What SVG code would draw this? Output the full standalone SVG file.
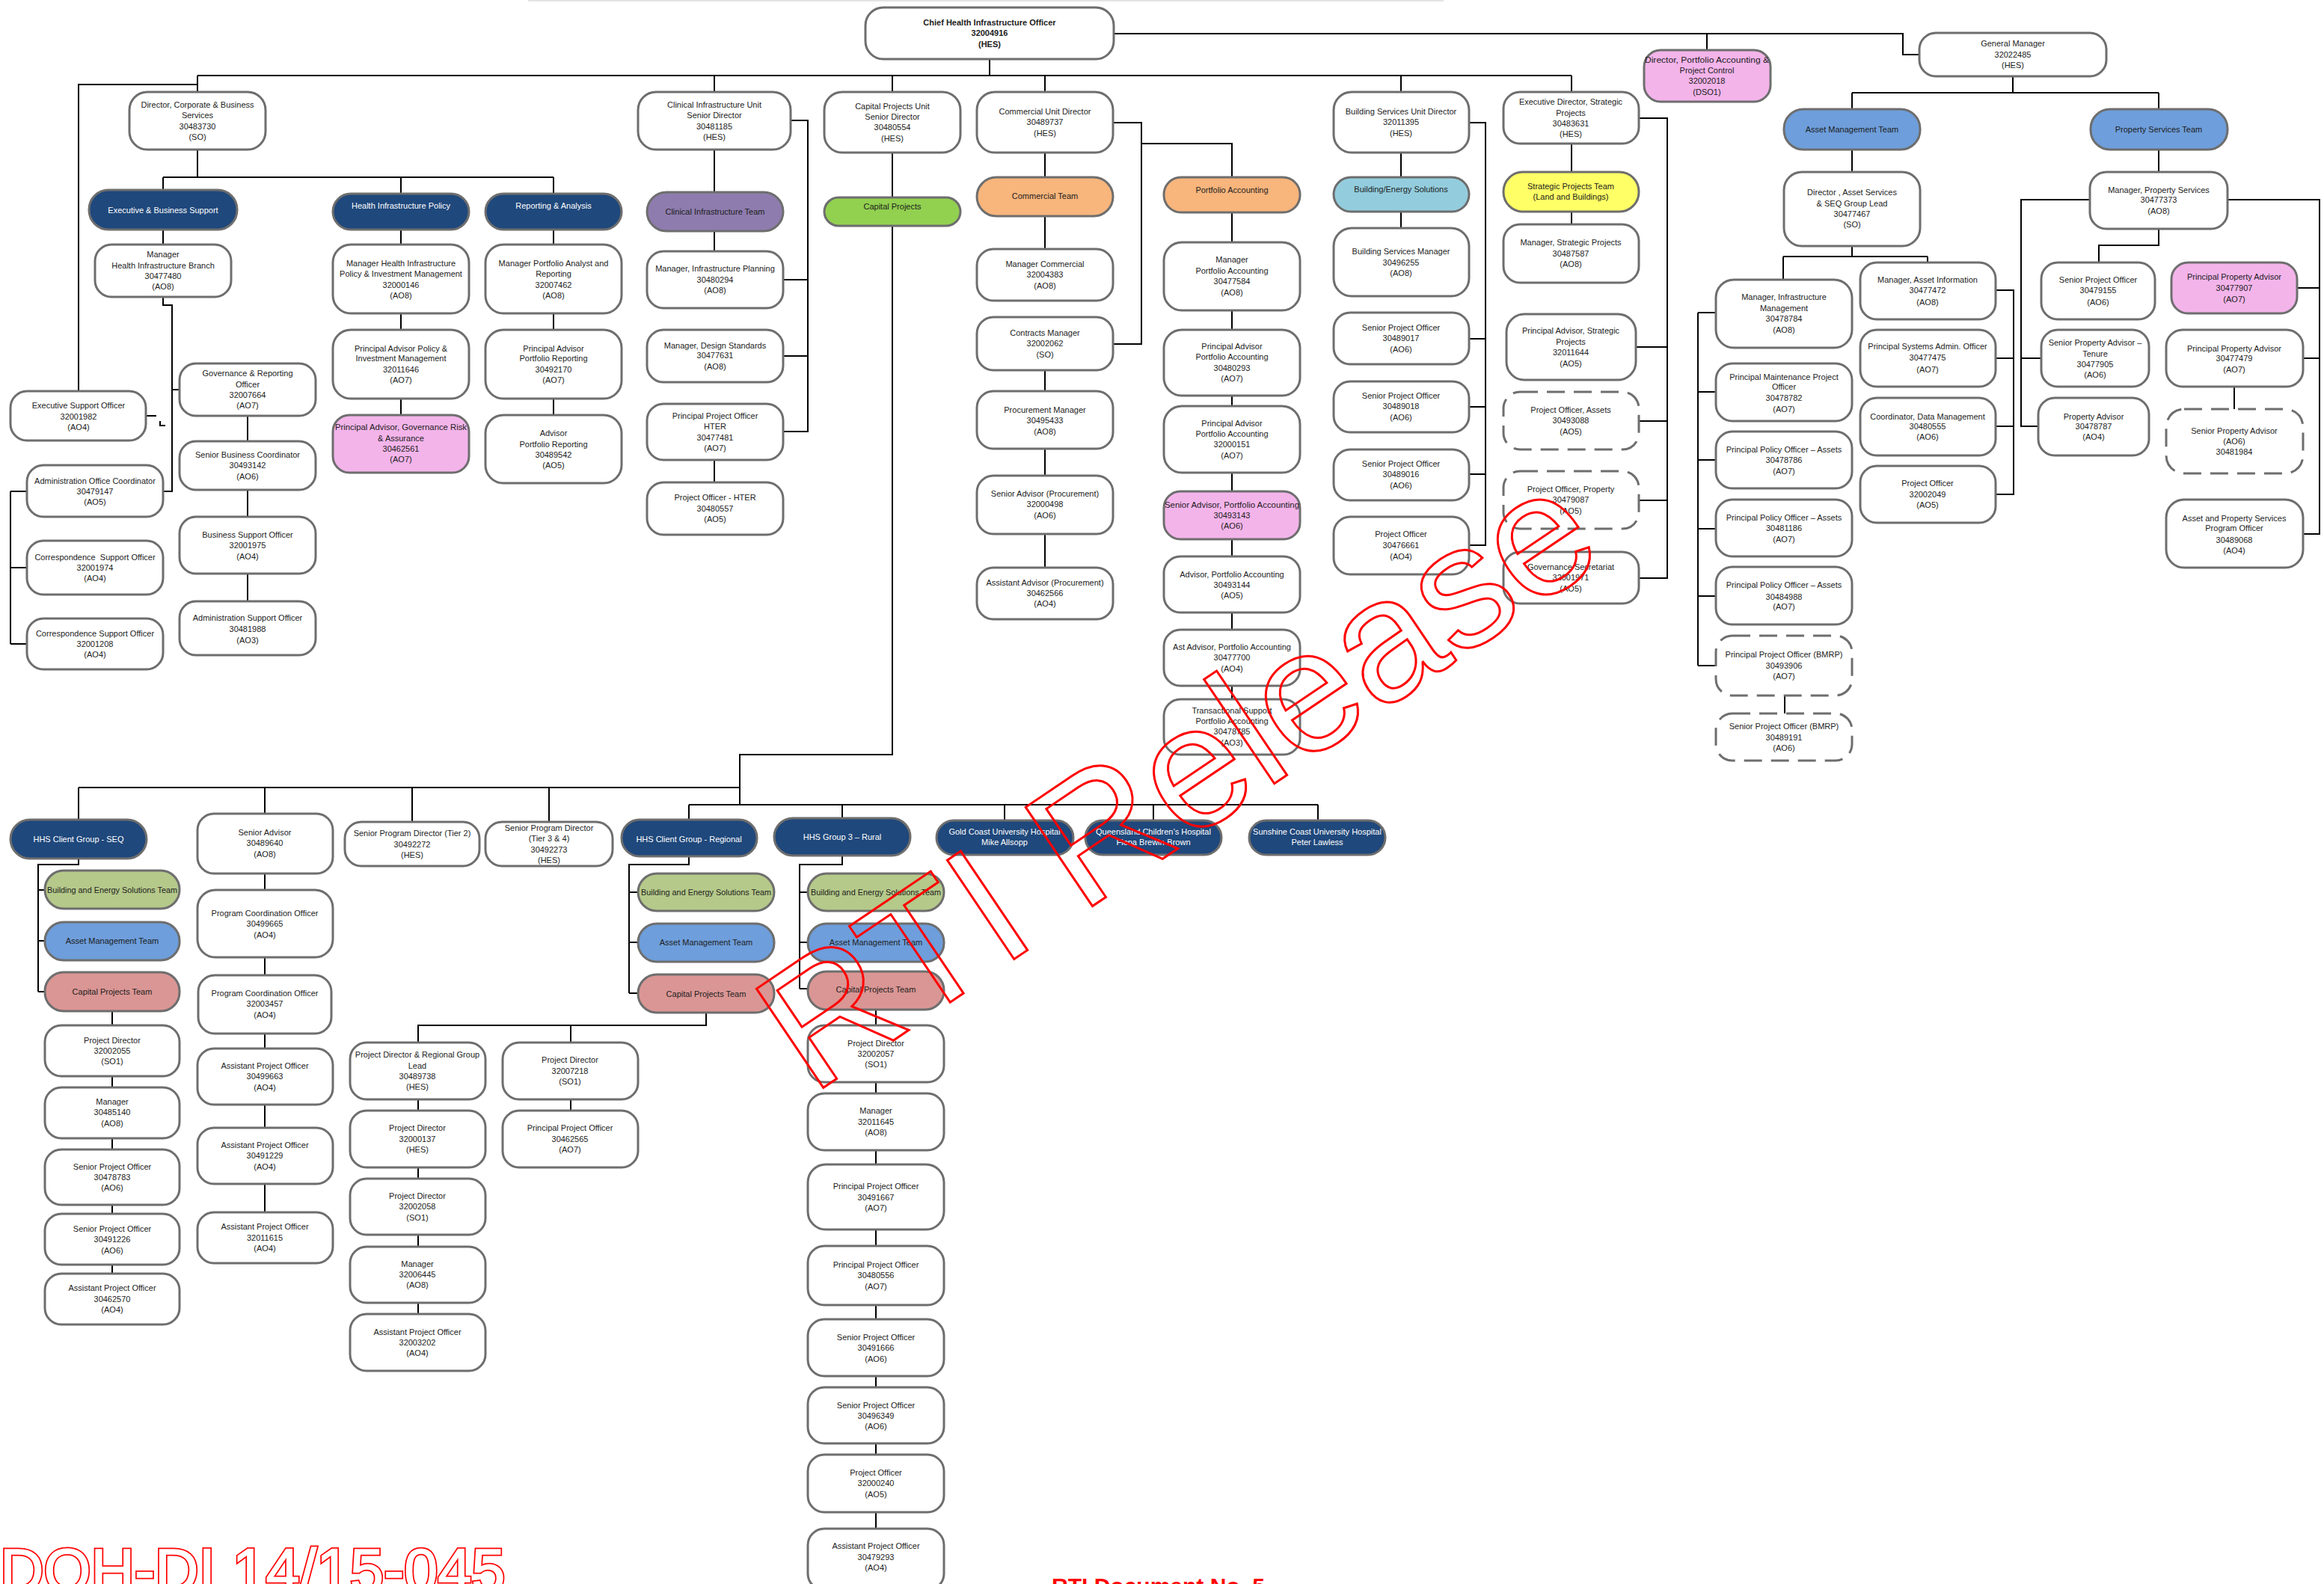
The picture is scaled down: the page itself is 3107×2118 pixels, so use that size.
<svg xmlns="http://www.w3.org/2000/svg" width="3107" height="2118" viewBox="0 0 3107 2118">
<style>
.n rect{fill:#fff;stroke:#6e6e6e;stroke-width:3}
.n text{font-family:"Liberation Sans",Arial,sans-serif;font-size:11px;fill:#1c1c1c;text-anchor:middle;white-space:pre}
.d rect{stroke-dasharray:24 12}
.hd rect{fill:#1f487c}
.hd text{fill:#fff}
.pk rect{fill:#f3b4ea}
.pu rect{fill:#8e7cae}
.gr rect{fill:#92d050}
.or rect{fill:#f8b57c}
.lb rect{fill:#93cddd}
.ye rect{fill:#ffff66}
.bl rect{fill:#6e9edb}
.ol rect{fill:#b5c98a}
.sa rect{fill:#da9694}
#connectors path{fill:none;stroke:#000;stroke-width:2}
.wm{font-family:"Liberation Sans",Arial,sans-serif;fill:none;stroke:#ff0000;stroke-width:3}
</style>

<rect x="706" y="0" width="1224" height="2" fill="#e4e4e4"/>

<g id="connectors">
<path d="M1323 79V101M264 101H2101M264 101V123M955 101V123M1193 101V123M1397 101V123M1873 101V123M2101 101V123"/>
<path d="M264 113H105V523"/>
<path d="M1489 45H2544V73H2566M2282 45V67"/>
<path d="M264 200V237M218 237H740M218 237V254M536 237V259M740 237V259M218 307V327"/>
<path d="M218 397V408H230V657H218M230 521H240"/>
<path d="M195 556H209M214 563V569H221"/>
<path d="M14 657V861M14 657H36M14 759H36M14 861H36"/>
<path d="M331 556V590M331 655V691M331 767V804"/>
<path d="M536 307V327M536 419V441M536 533V555M740 307V327M740 419V441M740 533V555"/>
<path d="M955 200V257M955 309V336M1057 161H1080V577H1047M1047 374H1080M1047 476H1080M955 615V645"/>
<path d="M1193 204V264M1193 302V1009H989V1076M105 1053H989M921 1076H1762"/>
<path d="M1397 204V237M1397 289V333M1488 164H1526V460H1488M1526 192H1647V237M1397 495V523M1397 600V636M1397 714V759"/>
<path d="M1647 284V324M1647 415V441M1647 529V543M1647 632V657M1647 721V744M1647 819V842M1647 917V935"/>
<path d="M1873 204V237M1873 283V305M1964 164H1986V729H1964M1964 453H1986M1964 544H1986M1964 634H1986"/>
<path d="M2101 192V230M2101 283V300M2191 158H2229V773H2191M2187 464H2229M2191 563H2229M2191 669H2229"/>
<path d="M2691 102V124M2476 124H2886M2476 124V146M2886 124V146M2476 200V230M2476 329V343M2384 343H2577M2384 343V374M2577 343V351"/>
<path d="M2270 418V890M2270 418H2294M2270 524H2294M2270 615H2294M2270 707H2294M2270 797H2294M2270 890H2294M2386 930V954"/>
<path d="M2668 388H2692V661H2668M2668 479H2692M2668 570H2692"/>
<path d="M2886 200V230M2886 306V328H2806V351M2794 267H2702V570H2725M2702 479H2729M2978 267H3101V714H3079M3071 385H3101M3079 479H3101M2987 517V547"/>
<path d="M105 1053V1096M354 1053V1088M551 1053V1099M734 1053V1099M921 1076V1096M1126 1076V1094M1343 1076V1097M1542 1076V1097M1762 1076V1097"/>
<path d="M105 1148V1156H51V1326M51 1190H60M51 1258H60M51 1326H60M150 1352V1371M150 1439V1454M150 1522V1537M150 1611V1623M150 1691V1703"/>
<path d="M354 1168V1190M354 1280V1304M354 1382V1402M354 1477V1508M354 1583V1621"/>
<path d="M921 1145V1156H841V1328M841 1193H853M841 1260H853M841 1328H853M944 1354V1371H559V1394M763 1371V1394M559 1470V1485M559 1561V1576M559 1651V1667M559 1742V1757M763 1470V1485"/>
<path d="M1126 1144V1156H1069V1322M1069 1193H1080M1069 1260H1080M1069 1322H1080M1171 1350V1371M1171 1447V1462M1171 1538V1557M1171 1644V1666M1171 1745V1764M1171 1840V1855M1171 1930V1945M1171 2022V2044"/>
</g>

<!-- executive level -->
<g id="chio" class="n"><rect x="1157" y="10" width="332" height="69" rx="24"/><text font-weight="bold"><tspan x="1323" y="34">Chief Health Infrastructure Officer</tspan><tspan x="1323" y="48">32004916</tspan><tspan x="1323" y="63">(HES)</tspan></text></g>
<g id="dir-pa" class="n pk"><rect x="2198" y="67" width="169" height="69" rx="22"/><text><tspan x="2282" y="84" textLength="166" lengthAdjust="spacingAndGlyphs">Director, Portfolio Accounting &amp;</tspan><tspan x="2282" y="98">Project Control</tspan><tspan x="2282" y="112">32002018</tspan><tspan x="2282" y="127">(DSO1)</tspan></text></g>
<g id="gm" class="n"><rect x="2566" y="44" width="250" height="58" rx="22"/><text><tspan x="2691" y="62">General Manager</tspan><tspan x="2691" y="77">32022485</tspan><tspan x="2691" y="91">(HES)</tspan></text></g>

<!-- corporate and business services -->
<g id="dir-corp" class="n"><rect x="173" y="123" width="182" height="77" rx="24"/><text><tspan x="264" y="144">Director, Corporate &amp; Business</tspan><tspan x="264" y="158">Services</tspan><tspan x="264" y="173">30483730</tspan><tspan x="264" y="187">(SO)</tspan></text></g>
<g id="exec-bs" class="n hd"><rect x="119" y="254" width="198" height="53" rx="26"/><text><tspan x="218" y="285">Executive &amp; Business Support</tspan></text></g>
<g id="hip" class="n hd"><rect x="445" y="259" width="182" height="48" rx="24"/><text><tspan x="536" y="279">Health Infrastructure Policy</tspan></text></g>
<g id="ra" class="n hd"><rect x="649" y="259" width="182" height="48" rx="24"/><text><tspan x="740" y="279">Reporting &amp; Analysis</tspan></text></g>
<g id="mgr-hib" class="n"><rect x="127" y="327" width="182" height="70" rx="22"/><text><tspan x="218" y="344">Manager</tspan><tspan x="218" y="359">Health Infrastructure Branch</tspan><tspan x="218" y="373">30477480</tspan><tspan x="218" y="387">(AO8)</tspan></text></g>
<g id="mgr-hip" class="n"><rect x="445" y="327" width="182" height="92" rx="24"/><text><tspan x="536" y="356">Manager Health Infrastructure</tspan><tspan x="536" y="370">Policy &amp; Investment Management</tspan><tspan x="536" y="385">32000146</tspan><tspan x="536" y="399">(AO8)</tspan></text></g>
<g id="mgr-par" class="n"><rect x="649" y="327" width="182" height="92" rx="24"/><text><tspan x="740" y="356">Manager Portfolio Analyst and</tspan><tspan x="740" y="370">Reporting</tspan><tspan x="740" y="385">32007462</tspan><tspan x="740" y="399">(AO8)</tspan></text></g>
<g id="pa-pim" class="n"><rect x="445" y="441" width="182" height="92" rx="24"/><text><tspan x="536" y="470">Principal Advisor Policy &amp;</tspan><tspan x="536" y="483">Investment Management</tspan><tspan x="536" y="498">32011646</tspan><tspan x="536" y="512">(AO7)</tspan></text></g>
<g id="pa-pr" class="n"><rect x="649" y="441" width="182" height="92" rx="24"/><text><tspan x="740" y="470">Principal Advisor</tspan><tspan x="740" y="483">Portfolio Reporting</tspan><tspan x="740" y="498">30492170</tspan><tspan x="740" y="512">(AO7)</tspan></text></g>
<g id="gro" class="n"><rect x="240" y="486" width="182" height="70" rx="22"/><text><tspan x="331" y="503">Governance &amp; Reporting</tspan><tspan x="331" y="518">Officer</tspan><tspan x="331" y="532">32007664</tspan><tspan x="331" y="546">(AO7)</tspan></text></g>
<g id="eso" class="n"><rect x="14" y="523" width="181" height="66" rx="22"/><text><tspan x="105" y="546">Executive Support Officer</tspan><tspan x="105" y="561">32001982</tspan><tspan x="105" y="575">(AO4)</tspan></text></g>
<g id="aoc" class="n"><rect x="36" y="622" width="182" height="69" rx="22"/><text><tspan x="127" y="647">Administration Office Coordinator</tspan><tspan x="127" y="661">30479147</tspan><tspan x="127" y="675">(AO5)</tspan></text></g>
<g id="cso1" class="n"><rect x="36" y="723" width="182" height="72" rx="22"/><text><tspan x="127" y="749">Correspondence  Support Officer</tspan><tspan x="127" y="763">32001974</tspan><tspan x="127" y="777">(AO4)</tspan></text></g>
<g id="cso2" class="n"><rect x="36" y="827" width="182" height="68" rx="22"/><text><tspan x="127" y="851">Correspondence Support Officer</tspan><tspan x="127" y="865">32001208</tspan><tspan x="127" y="879">(AO4)</tspan></text></g>
<g id="sbc" class="n"><rect x="240" y="590" width="182" height="65" rx="22"/><text><tspan x="331" y="612">Senior Business Coordinator</tspan><tspan x="331" y="626">30493142</tspan><tspan x="331" y="641">(AO6)</tspan></text></g>
<g id="bso" class="n"><rect x="240" y="691" width="182" height="76" rx="22"/><text><tspan x="331" y="719">Business Support Officer</tspan><tspan x="331" y="733">32001975</tspan><tspan x="331" y="748">(AO4)</tspan></text></g>
<g id="aso" class="n"><rect x="240" y="804" width="182" height="72" rx="22"/><text><tspan x="331" y="830">Administration Support Officer</tspan><tspan x="331" y="845">30481988</tspan><tspan x="331" y="860">(AO3)</tspan></text></g>
<g id="pa-gra" class="n pk"><rect x="445" y="555" width="182" height="77" rx="22"/><text><tspan x="536" y="575" textLength="176" lengthAdjust="spacingAndGlyphs">Principal Advisor, Governance Risk</tspan><tspan x="536" y="590">&amp; Assurance</tspan><tspan x="536" y="604">30462561</tspan><tspan x="536" y="618">(AO7)</tspan></text></g>
<g id="apr" class="n"><rect x="649" y="555" width="182" height="91" rx="24"/><text><tspan x="740" y="583">Advisor</tspan><tspan x="740" y="598">Portfolio Reporting</tspan><tspan x="740" y="612">30489542</tspan><tspan x="740" y="626">(AO5)</tspan></text></g>

<!-- clinical infrastructure -->
<g id="ciusd" class="n"><rect x="853" y="123" width="204" height="77" rx="24"/><text><tspan x="955" y="144">Clinical Infrastructure Unit</tspan><tspan x="955" y="158">Senior Director</tspan><tspan x="955" y="173">30481185</tspan><tspan x="955" y="187">(HES)</tspan></text></g>
<g id="cit" class="n pu"><rect x="865" y="257" width="182" height="52" rx="26"/><text><tspan x="956" y="287">Clinical Infrastructure Team</tspan></text></g>
<g id="mip" class="n"><rect x="865" y="336" width="182" height="76" rx="22"/><text><tspan x="956" y="363">Manager, Infrastructure Planning</tspan><tspan x="956" y="378">30480294</tspan><tspan x="956" y="392">(AO8)</tspan></text></g>
<g id="mds" class="n"><rect x="865" y="441" width="182" height="70" rx="22"/><text><tspan x="956" y="466">Manager, Design Standards</tspan><tspan x="956" y="479">30477631</tspan><tspan x="956" y="494">(AO8)</tspan></text></g>
<g id="ppo-hter" class="n"><rect x="865" y="540" width="182" height="75" rx="22"/><text><tspan x="956" y="560">Principal Project Officer</tspan><tspan x="956" y="574">HTER</tspan><tspan x="956" y="589">30477481</tspan><tspan x="956" y="603">(AO7)</tspan></text></g>
<g id="po-hter" class="n"><rect x="865" y="645" width="182" height="70" rx="22"/><text><tspan x="956" y="669">Project Officer - HTER</tspan><tspan x="956" y="684">30480557</tspan><tspan x="956" y="698">(AO5)</tspan></text></g>

<!-- capital projects -->
<g id="cpusd" class="n"><rect x="1102" y="123" width="182" height="81" rx="24"/><text><tspan x="1193" y="146">Capital Projects Unit</tspan><tspan x="1193" y="160">Senior Director</tspan><tspan x="1193" y="174">30480554</tspan><tspan x="1193" y="189">(HES)</tspan></text></g>
<g id="cp" class="n gr"><rect x="1102" y="264" width="182" height="38" rx="19"/><text><tspan x="1193" y="280">Capital Projects</tspan></text></g>

<!-- commercial -->
<g id="cud" class="n"><rect x="1306" y="123" width="182" height="81" rx="24"/><text><tspan x="1397" y="153">Commercial Unit Director</tspan><tspan x="1397" y="167">30489737</tspan><tspan x="1397" y="182">(HES)</tspan></text></g>
<g id="ct" class="n or"><rect x="1306" y="237" width="182" height="52" rx="26"/><text><tspan x="1397" y="266">Commercial Team</tspan></text></g>
<g id="mc" class="n"><rect x="1306" y="333" width="182" height="69" rx="22"/><text><tspan x="1397" y="357">Manager Commercial</tspan><tspan x="1397" y="371">32004383</tspan><tspan x="1397" y="386">(AO8)</tspan></text></g>
<g id="cm" class="n"><rect x="1306" y="424" width="182" height="71" rx="22"/><text><tspan x="1397" y="449">Contracts Manager</tspan><tspan x="1397" y="463">32002062</tspan><tspan x="1397" y="478">(SO)</tspan></text></g>
<g id="pm" class="n"><rect x="1306" y="523" width="182" height="77" rx="22"/><text><tspan x="1397" y="552">Procurement Manager</tspan><tspan x="1397" y="566">30495433</tspan><tspan x="1397" y="581">(AO8)</tspan></text></g>
<g id="sap" class="n"><rect x="1306" y="636" width="182" height="78" rx="22"/><text><tspan x="1397" y="664">Senior Advisor (Procurement)</tspan><tspan x="1397" y="678">32000498</tspan><tspan x="1397" y="693">(AO6)</tspan></text></g>
<g id="aap" class="n"><rect x="1306" y="759" width="182" height="69" rx="22"/><text><tspan x="1397" y="783">Assistant Advisor (Procurement)</tspan><tspan x="1397" y="797">30462566</tspan><tspan x="1397" y="811">(AO4)</tspan></text></g>

<!-- portfolio accounting -->
<g id="pat" class="n or"><rect x="1556" y="237" width="182" height="47" rx="23"/><text><tspan x="1647" y="258">Portfolio Accounting</tspan></text></g>
<g id="mpa" class="n"><rect x="1556" y="324" width="182" height="91" rx="24"/><text><tspan x="1647" y="351">Manager</tspan><tspan x="1647" y="366">Portfolio Accounting</tspan><tspan x="1647" y="380">30477584</tspan><tspan x="1647" y="395">(AO8)</tspan></text></g>
<g id="papa1" class="n"><rect x="1556" y="441" width="182" height="88" rx="24"/><text><tspan x="1647" y="467">Principal Advisor</tspan><tspan x="1647" y="481">Portfolio Accounting</tspan><tspan x="1647" y="496">30480293</tspan><tspan x="1647" y="510">(AO7)</tspan></text></g>
<g id="papa2" class="n"><rect x="1556" y="543" width="182" height="89" rx="24"/><text><tspan x="1647" y="570">Principal Advisor</tspan><tspan x="1647" y="584">Portfolio Accounting</tspan><tspan x="1647" y="598">32000151</tspan><tspan x="1647" y="613">(AO7)</tspan></text></g>
<g id="sapa" class="n pk"><rect x="1556" y="657" width="182" height="64" rx="22"/><text><tspan x="1647" y="679" textLength="180" lengthAdjust="spacingAndGlyphs">Senior Advisor, Portfolio Accounting</tspan><tspan x="1647" y="693">30493143</tspan><tspan x="1647" y="707">(AO6)</tspan></text></g>
<g id="apa" class="n"><rect x="1556" y="744" width="182" height="75" rx="22"/><text><tspan x="1647" y="772">Advisor, Portfolio Accounting</tspan><tspan x="1647" y="786">30493144</tspan><tspan x="1647" y="800">(AO5)</tspan></text></g>
<g id="aapa" class="n"><rect x="1556" y="842" width="182" height="75" rx="22"/><text><tspan x="1647" y="869">Ast Advisor, Portfolio Accounting</tspan><tspan x="1647" y="883">30477700</tspan><tspan x="1647" y="898">(AO4)</tspan></text></g>
<g id="tspa" class="n"><rect x="1556" y="935" width="182" height="74" rx="22"/><text><tspan x="1647" y="954">Transactional Support</tspan><tspan x="1647" y="968">Portfolio Accounting</tspan><tspan x="1647" y="982">30478785</tspan><tspan x="1647" y="997">(AO3)</tspan></text></g>

<!-- building services -->
<g id="bsud" class="n"><rect x="1783" y="123" width="181" height="81" rx="24"/><text><tspan x="1873" y="153">Building Services Unit Director</tspan><tspan x="1873" y="167">32011395</tspan><tspan x="1873" y="182">(HES)</tspan></text></g>
<g id="bes" class="n lb"><rect x="1783" y="237" width="181" height="46" rx="23"/><text><tspan x="1873" y="257">Building/Energy Solutions</tspan></text></g>
<g id="bsm" class="n"><rect x="1783" y="305" width="181" height="91" rx="24"/><text><tspan x="1873" y="340">Building Services Manager</tspan><tspan x="1873" y="355">30496255</tspan><tspan x="1873" y="369">(AO8)</tspan></text></g>
<g id="spo-b1" class="n"><rect x="1783" y="418" width="181" height="69" rx="22"/><text><tspan x="1873" y="442">Senior Project Officer</tspan><tspan x="1873" y="456">30489017</tspan><tspan x="1873" y="471">(AO6)</tspan></text></g>
<g id="spo-b2" class="n"><rect x="1783" y="510" width="181" height="68" rx="22"/><text><tspan x="1873" y="533">Senior Project Officer</tspan><tspan x="1873" y="547">30489018</tspan><tspan x="1873" y="562">(AO6)</tspan></text></g>
<g id="spo-b3" class="n"><rect x="1783" y="601" width="181" height="68" rx="22"/><text><tspan x="1873" y="624">Senior Project Officer</tspan><tspan x="1873" y="638">30489016</tspan><tspan x="1873" y="653">(AO6)</tspan></text></g>
<g id="po-b" class="n"><rect x="1783" y="691" width="181" height="77" rx="22"/><text><tspan x="1873" y="718">Project Officer</tspan><tspan x="1873" y="733">30476661</tspan><tspan x="1873" y="748">(AO4)</tspan></text></g>

<!-- strategic projects -->
<g id="edsp" class="n"><rect x="2010" y="123" width="181" height="69" rx="22"/><text><tspan x="2100" y="140">Executive Director, Strategic</tspan><tspan x="2100" y="155">Projects</tspan><tspan x="2100" y="169">30483631</tspan><tspan x="2100" y="183">(HES)</tspan></text></g>
<g id="spt" class="n ye"><rect x="2010" y="230" width="181" height="53" rx="26"/><text><tspan x="2100" y="253">Strategic Projects Team</tspan><tspan x="2100" y="267">(Land and Buildings)</tspan></text></g>
<g id="msp" class="n"><rect x="2010" y="300" width="181" height="78" rx="22"/><text><tspan x="2100" y="328">Manager, Strategic Projects</tspan><tspan x="2100" y="343">30487587</tspan><tspan x="2100" y="357">(AO8)</tspan></text></g>
<g id="pasp" class="n"><rect x="2014" y="420" width="173" height="88" rx="24"/><text><tspan x="2100" y="446">Principal Advisor, Strategic</tspan><tspan x="2100" y="461">Projects</tspan><tspan x="2100" y="475">32011644</tspan><tspan x="2100" y="490">(AO5)</tspan></text></g>
<g id="poa" class="n d"><rect x="2010" y="524" width="181" height="77" rx="22"/><text><tspan x="2100" y="552">Project Officer, Assets</tspan><tspan x="2100" y="566">30493088</tspan><tspan x="2100" y="581">(AO5)</tspan></text></g>
<g id="pop" class="n d"><rect x="2010" y="630" width="181" height="77" rx="22"/><text><tspan x="2100" y="658">Project Officer, Property</tspan><tspan x="2100" y="672">30479087</tspan><tspan x="2100" y="687">(AO5)</tspan></text></g>
<g id="gs" class="n"><rect x="2010" y="738" width="181" height="69" rx="22"/><text><tspan x="2100" y="762">Governance Secretariat</tspan><tspan x="2100" y="776">32001971</tspan><tspan x="2100" y="791">(AO5)</tspan></text></g>

<!-- asset management -->
<g id="amt" class="n bl"><rect x="2385" y="146" width="182" height="54" rx="26"/><text><tspan x="2476" y="177">Asset Management Team</tspan></text></g>
<g id="das" class="n"><rect x="2385" y="230" width="182" height="99" rx="24"/><text><tspan x="2476" y="261">Director , Asset Services</tspan><tspan x="2476" y="276">&amp; SEQ Group Lead</tspan><tspan x="2476" y="290">30477467</tspan><tspan x="2476" y="304">(SO)</tspan></text></g>
<g id="mim" class="n"><rect x="2294" y="374" width="182" height="91" rx="24"/><text><tspan x="2385" y="401">Manager, Infrastructure</tspan><tspan x="2385" y="416">Management</tspan><tspan x="2385" y="430">30478784</tspan><tspan x="2385" y="445">(AO8)</tspan></text></g>
<g id="pmpo" class="n"><rect x="2294" y="486" width="182" height="77" rx="22"/><text><tspan x="2385" y="508">Principal Maintenance Project</tspan><tspan x="2385" y="521">Officer</tspan><tspan x="2385" y="536">30478782</tspan><tspan x="2385" y="551">(AO7)</tspan></text></g>
<g id="ppoa1" class="n"><rect x="2294" y="577" width="182" height="76" rx="22"/><text><tspan x="2385" y="605">Principal Policy Officer – Assets</tspan><tspan x="2385" y="619">30478786</tspan><tspan x="2385" y="634">(AO7)</tspan></text></g>
<g id="ppoa2" class="n"><rect x="2294" y="668" width="182" height="76" rx="22"/><text><tspan x="2385" y="696">Principal Policy Officer – Assets</tspan><tspan x="2385" y="710">30481186</tspan><tspan x="2385" y="725">(AO7)</tspan></text></g>
<g id="ppoa3" class="n"><rect x="2294" y="758" width="182" height="77" rx="22"/><text><tspan x="2385" y="786">Principal Policy Officer – Assets</tspan><tspan x="2385" y="802">30484988</tspan><tspan x="2385" y="815">(AO7)</tspan></text></g>
<g id="ppo-bmrp" class="n d"><rect x="2294" y="850" width="182" height="80" rx="22"/><text><tspan x="2385" y="879">Principal Project Officer (BMRP)</tspan><tspan x="2385" y="894">30493906</tspan><tspan x="2385" y="908">(AO7)</tspan></text></g>
<g id="spo-bmrp" class="n d"><rect x="2294" y="954" width="182" height="63" rx="22"/><text><tspan x="2385" y="975">Senior Project Officer (BMRP)</tspan><tspan x="2385" y="990">30489191</tspan><tspan x="2385" y="1004">(AO6)</tspan></text></g>
<g id="mai" class="n"><rect x="2487" y="351" width="181" height="76" rx="22"/><text><tspan x="2577" y="378">Manager, Asset Information</tspan><tspan x="2577" y="392">30477472</tspan><tspan x="2577" y="408">(AO8)</tspan></text></g>
<g id="psao" class="n"><rect x="2487" y="441" width="181" height="76" rx="22"/><text><tspan x="2577" y="467">Principal Systems Admin. Officer</tspan><tspan x="2577" y="482">30477475</tspan><tspan x="2577" y="498">(AO7)</tspan></text></g>
<g id="cdm" class="n"><rect x="2487" y="532" width="181" height="77" rx="22"/><text><tspan x="2577" y="561">Coordinator, Data Management</tspan><tspan x="2577" y="574">30480555</tspan><tspan x="2577" y="588">(AO6)</tspan></text></g>
<g id="po-am" class="n"><rect x="2487" y="623" width="181" height="76" rx="22"/><text><tspan x="2577" y="650">Project Officer</tspan><tspan x="2577" y="665">32002049</tspan><tspan x="2577" y="679">(AO5)</tspan></text></g>

<!-- property services -->
<g id="pst" class="n bl"><rect x="2795" y="146" width="183" height="54" rx="26"/><text><tspan x="2886" y="177">Property Services Team</tspan></text></g>
<g id="mps" class="n"><rect x="2794" y="230" width="184" height="76" rx="22"/><text><tspan x="2886" y="258">Manager, Property Services</tspan><tspan x="2886" y="271">30477373</tspan><tspan x="2886" y="286">(AO8)</tspan></text></g>
<g id="spo-ps" class="n"><rect x="2729" y="351" width="152" height="76" rx="22"/><text><tspan x="2805" y="378">Senior Project Officer</tspan><tspan x="2805" y="392">30479155</tspan><tspan x="2805" y="408">(AO6)</tspan></text></g>
<g id="ppa1" class="n pk"><rect x="2903" y="351" width="168" height="68" rx="22"/><text><tspan x="2987" y="374">Principal Property Advisor</tspan><tspan x="2987" y="389">30477907</tspan><tspan x="2987" y="404">(AO7)</tspan></text></g>
<g id="spat" class="n"><rect x="2729" y="441" width="144" height="76" rx="22"/><text><tspan x="2801" y="462">Senior Property Advisor –</tspan><tspan x="2801" y="477">Tenure</tspan><tspan x="2801" y="491">30477905</tspan><tspan x="2801" y="505">(AO6)</tspan></text></g>
<g id="ppa2" class="n"><rect x="2896" y="441" width="183" height="76" rx="22"/><text><tspan x="2987" y="470">Principal Property Advisor</tspan><tspan x="2987" y="483">30477479</tspan><tspan x="2987" y="498">(AO7)</tspan></text></g>
<g id="pa-ps" class="n"><rect x="2725" y="532" width="148" height="77" rx="22"/><text><tspan x="2799" y="561">Property Advisor</tspan><tspan x="2799" y="574">30478787</tspan><tspan x="2799" y="588">(AO4)</tspan></text></g>
<g id="spa" class="n d"><rect x="2896" y="547" width="183" height="86" rx="24"/><text><tspan x="2987" y="580">Senior Property Advisor</tspan><tspan x="2987" y="594">(AO6)</tspan><tspan x="2987" y="608">30481984</tspan></text></g>
<g id="apspo" class="n"><rect x="2896" y="668" width="183" height="91" rx="24"/><text><tspan x="2987" y="697">Asset and Property Services</tspan><tspan x="2987" y="710">Program Officer</tspan><tspan x="2987" y="726">30489068</tspan><tspan x="2987" y="740">(AO4)</tspan></text></g>

<!-- HHS client group SEQ -->
<g id="seq" class="n hd"><rect x="14" y="1096" width="182" height="52" rx="26"/><text><tspan x="105" y="1126">HHS Client Group - SEQ</tspan></text></g>
<g id="seq-bes" class="n ol"><rect x="60" y="1164" width="180" height="51" rx="25"/><text><tspan x="150" y="1194" textLength="174" lengthAdjust="spacingAndGlyphs">Building and Energy Solutions Team</tspan></text></g>
<g id="seq-amt" class="n bl"><rect x="60" y="1233" width="180" height="51" rx="25"/><text><tspan x="150" y="1262">Asset Management Team</tspan></text></g>
<g id="seq-cpt" class="n sa"><rect x="60" y="1300" width="180" height="52" rx="25"/><text><tspan x="150" y="1330">Capital Projects Team</tspan></text></g>
<g id="seq-pd" class="n"><rect x="60" y="1371" width="180" height="68" rx="22"/><text><tspan x="150" y="1395">Project Director</tspan><tspan x="150" y="1409">32002055</tspan><tspan x="150" y="1423">(SO1)</tspan></text></g>
<g id="seq-mgr" class="n"><rect x="60" y="1454" width="180" height="68" rx="22"/><text><tspan x="150" y="1477">Manager</tspan><tspan x="150" y="1491">30485140</tspan><tspan x="150" y="1506">(AO8)</tspan></text></g>
<g id="seq-spo1" class="n"><rect x="60" y="1537" width="180" height="74" rx="22"/><text><tspan x="150" y="1564">Senior Project Officer</tspan><tspan x="150" y="1578">30478783</tspan><tspan x="150" y="1592">(AO6)</tspan></text></g>
<g id="seq-spo2" class="n"><rect x="60" y="1623" width="180" height="68" rx="22"/><text><tspan x="150" y="1647">Senior Project Officer</tspan><tspan x="150" y="1661">30491226</tspan><tspan x="150" y="1676">(AO6)</tspan></text></g>
<g id="seq-apo" class="n"><rect x="60" y="1703" width="180" height="68" rx="22"/><text><tspan x="150" y="1726">Assistant Project Officer</tspan><tspan x="150" y="1741">30462570</tspan><tspan x="150" y="1755">(AO4)</tspan></text></g>

<!-- senior advisor and program directors -->
<g id="sa" class="n"><rect x="264" y="1088" width="181" height="80" rx="22"/><text><tspan x="354" y="1117">Senior Advisor</tspan><tspan x="354" y="1131">30489640</tspan><tspan x="354" y="1146">(AO8)</tspan></text></g>
<g id="pco1" class="n"><rect x="264" y="1190" width="181" height="90" rx="24"/><text><tspan x="354" y="1225">Program Coordination Officer</tspan><tspan x="354" y="1239">30499665</tspan><tspan x="354" y="1254">(AO4)</tspan></text></g>
<g id="pco2" class="n"><rect x="265" y="1304" width="178" height="78" rx="22"/><text><tspan x="354" y="1332">Program Coordination Officer</tspan><tspan x="354" y="1346">32003457</tspan><tspan x="354" y="1361">(AO4)</tspan></text></g>
<g id="apo1" class="n"><rect x="264" y="1402" width="181" height="75" rx="22"/><text><tspan x="354" y="1429">Assistant Project Officer</tspan><tspan x="354" y="1443">30499663</tspan><tspan x="354" y="1458">(AO4)</tspan></text></g>
<g id="apo2" class="n"><rect x="264" y="1508" width="181" height="75" rx="22"/><text><tspan x="354" y="1535">Assistant Project Officer</tspan><tspan x="354" y="1549">30491229</tspan><tspan x="354" y="1564">(AO4)</tspan></text></g>
<g id="apo3" class="n"><rect x="264" y="1621" width="181" height="68" rx="22"/><text><tspan x="354" y="1644">Assistant Project Officer</tspan><tspan x="354" y="1659">32011615</tspan><tspan x="354" y="1673">(AO4)</tspan></text></g>
<g id="spd2" class="n"><rect x="461" y="1099" width="180" height="59" rx="22"/><text><tspan x="551" y="1118">Senior Program Director (Tier 2)</tspan><tspan x="551" y="1133">30492272</tspan><tspan x="551" y="1147">(HES)</tspan></text></g>
<g id="spd34" class="n"><rect x="649" y="1099" width="170" height="59" rx="22"/><text><tspan x="734" y="1111">Senior Program Director</tspan><tspan x="734" y="1125">(Tier 3 &amp; 4)</tspan><tspan x="734" y="1140">30492273</tspan><tspan x="734" y="1154">(HES)</tspan></text></g>

<!-- HHS client group regional -->
<g id="reg" class="n hd"><rect x="831" y="1096" width="181" height="49" rx="24"/><text><tspan x="921" y="1126">HHS Client Group - Regional</tspan></text></g>
<g id="reg-bes" class="n ol"><rect x="853" y="1168" width="182" height="50" rx="25"/><text><tspan x="944" y="1197" textLength="174" lengthAdjust="spacingAndGlyphs">Building and Energy Solutions Team</tspan></text></g>
<g id="reg-amt" class="n bl"><rect x="853" y="1235" width="182" height="51" rx="25"/><text><tspan x="944" y="1264">Asset Management Team</tspan></text></g>
<g id="reg-cpt" class="n sa"><rect x="853" y="1303" width="182" height="51" rx="25"/><text><tspan x="944" y="1333">Capital Projects Team</tspan></text></g>
<g id="reg-pdl" class="n"><rect x="468" y="1394" width="181" height="76" rx="22"/><text><tspan x="558" y="1414">Project Director &amp; Regional Group</tspan><tspan x="558" y="1429">Lead</tspan><tspan x="558" y="1443">30489738</tspan><tspan x="558" y="1457">(HES)</tspan></text></g>
<g id="reg-pd1" class="n"><rect x="468" y="1485" width="181" height="76" rx="22"/><text><tspan x="558" y="1512">Project Director</tspan><tspan x="558" y="1527">32000137</tspan><tspan x="558" y="1541">(HES)</tspan></text></g>
<g id="reg-pd2" class="n"><rect x="468" y="1576" width="181" height="75" rx="22"/><text><tspan x="558" y="1603">Project Director</tspan><tspan x="558" y="1617">32002058</tspan><tspan x="558" y="1632">(SO1)</tspan></text></g>
<g id="reg-mgr" class="n"><rect x="468" y="1667" width="181" height="75" rx="22"/><text><tspan x="558" y="1694">Manager</tspan><tspan x="558" y="1708">32006445</tspan><tspan x="558" y="1722">(AO8)</tspan></text></g>
<g id="reg-apo" class="n"><rect x="468" y="1757" width="181" height="76" rx="22"/><text><tspan x="558" y="1785">Assistant Project Officer</tspan><tspan x="558" y="1799">32003202</tspan><tspan x="558" y="1813">(AO4)</tspan></text></g>
<g id="reg-pd3" class="n"><rect x="672" y="1394" width="181" height="76" rx="22"/><text><tspan x="762" y="1421">Project Director</tspan><tspan x="762" y="1436">32007218</tspan><tspan x="762" y="1450">(SO1)</tspan></text></g>
<g id="reg-ppo" class="n"><rect x="672" y="1485" width="181" height="76" rx="22"/><text><tspan x="762" y="1512">Principal Project Officer</tspan><tspan x="762" y="1527">30462565</tspan><tspan x="762" y="1541">(AO7)</tspan></text></g>

<!-- HHS group 3 rural -->
<g id="rur" class="n hd"><rect x="1035" y="1094" width="182" height="50" rx="25"/><text><tspan x="1126" y="1123">HHS Group 3 – Rural</tspan></text></g>
<g id="rur-bes" class="n ol"><rect x="1080" y="1168" width="182" height="50" rx="25"/><text><tspan x="1171" y="1197" textLength="174" lengthAdjust="spacingAndGlyphs">Building and Energy Solutions Team</tspan></text></g>
<g id="rur-amt" class="n bl"><rect x="1080" y="1235" width="182" height="51" rx="25"/><text><tspan x="1171" y="1264">Asset Management Team</tspan></text></g>
<g id="rur-cpt" class="n sa"><rect x="1080" y="1299" width="182" height="51" rx="25"/><text><tspan x="1171" y="1327">Capital Projects Team</tspan></text></g>
<g id="rur-pd" class="n"><rect x="1080" y="1371" width="182" height="76" rx="22"/><text><tspan x="1171" y="1399">Project Director</tspan><tspan x="1171" y="1413">32002057</tspan><tspan x="1171" y="1427">(SO1)</tspan></text></g>
<g id="rur-mgr" class="n"><rect x="1080" y="1462" width="182" height="76" rx="22"/><text><tspan x="1171" y="1489">Manager</tspan><tspan x="1171" y="1504">32011645</tspan><tspan x="1171" y="1518">(AO8)</tspan></text></g>
<g id="rur-ppo1" class="n"><rect x="1080" y="1557" width="182" height="87" rx="24"/><text><tspan x="1171" y="1590">Principal Project Officer</tspan><tspan x="1171" y="1605">30491667</tspan><tspan x="1171" y="1619">(AO7)</tspan></text></g>
<g id="rur-ppo2" class="n"><rect x="1080" y="1666" width="182" height="79" rx="22"/><text><tspan x="1171" y="1695">Principal Project Officer</tspan><tspan x="1171" y="1709">30480556</tspan><tspan x="1171" y="1724">(AO7)</tspan></text></g>
<g id="rur-spo1" class="n"><rect x="1080" y="1764" width="182" height="76" rx="22"/><text><tspan x="1171" y="1792">Senior Project Officer</tspan><tspan x="1171" y="1806">30491666</tspan><tspan x="1171" y="1821">(AO6)</tspan></text></g>
<g id="rur-spo2" class="n"><rect x="1080" y="1855" width="182" height="75" rx="22"/><text><tspan x="1171" y="1883">Senior Project Officer</tspan><tspan x="1171" y="1897">30496349</tspan><tspan x="1171" y="1911">(AO6)</tspan></text></g>
<g id="rur-po" class="n"><rect x="1080" y="1945" width="182" height="77" rx="22"/><text><tspan x="1171" y="1973">Project Officer</tspan><tspan x="1171" y="1987">32000240</tspan><tspan x="1171" y="2002">(AO5)</tspan></text></g>
<g id="rur-apo" class="n"><rect x="1080" y="2044" width="182" height="82" rx="22"/><text><tspan x="1171" y="2071">Assistant Project Officer</tspan><tspan x="1171" y="2086">30479293</tspan><tspan x="1171" y="2100">(AO4)</tspan></text></g>

<!-- hospitals -->
<g id="gcuh" class="n hd"><rect x="1252" y="1097" width="183" height="46" rx="23"/><text><tspan x="1343" y="1116">Gold Coast University Hospital</tspan><tspan x="1343" y="1130">Mike Allsopp</tspan></text></g>
<g id="qch" class="n hd"><rect x="1451" y="1097" width="182" height="46" rx="23"/><text><tspan x="1542" y="1116">Queensland Children’s Hospital</tspan><tspan x="1542" y="1130">Fiona Brewin-Brown</tspan></text></g>
<g id="scuh" class="n hd"><rect x="1670" y="1097" width="182" height="46" rx="23"/><text><tspan x="1761" y="1116">Sunshine Coast University Hospital</tspan><tspan x="1761" y="1130">Peter Lawless</tspan></text></g>

<!-- release stamps -->
<text class="wm" transform="translate(1085 1465) rotate(-34)" x="0" y="0" font-size="232">RTI Release</text>
<g font-family="'Liberation Sans',Arial,sans-serif" font-size="81" style="white-space:pre">
<text x="0" y="2128" fill="#fff" stroke="#ff0000" stroke-width="5">DOH-DI  14/15-045</text>
<text x="0" y="2128" fill="#fff" stroke="#fff" stroke-width="1.5">DOH-DI  14/15-045</text>
</g>
<text x="1406" y="2131" font-family="'Liberation Sans',Arial,sans-serif" font-size="30" font-weight="bold" fill="#ff0000">RTI Document No. 5</text>
</svg>
